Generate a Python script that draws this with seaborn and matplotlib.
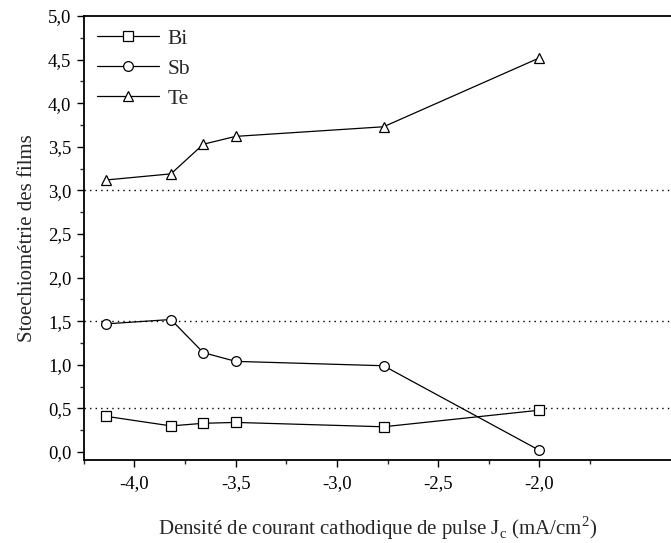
import numpy as np
import pandas as pd
import seaborn as sns
import matplotlib.pyplot as plt

# courant cathodique de pulse (mA/cm2)
jc = [-4.14, -3.82, -3.66, -3.50, -2.77, -2.00]
bi = [0.41, 0.30, 0.33, 0.34, 0.29, 0.48]
sb = [1.47, 1.52, 1.14, 1.04, 0.99, 0.02]
te = [3.12, 3.19, 3.53, 3.62, 3.73, 4.52]
ref_levels = [3.0, 1.5, 0.5]
yticks = np.arange(0, 5.01, 0.5)
xticks = [-4.0, -3.5, -3.0, -2.5, -2.0]

df = pd.DataFrame({'jc': jc * 3,
                   'val': bi + sb + te,
                   'elem': ['Bi'] * 6 + ['Sb'] * 6 + ['Te'] * 6})

sns.set_theme(style='ticks')
plt.rcParams['font.family'] = ['Liberation Serif', 'DejaVu Serif']
plt.rcParams['mathtext.fontset'] = 'custom'
plt.rcParams['mathtext.rm'] = 'Liberation Serif'

fig = plt.figure(figsize=(6.71, 5.43), dpi=100)
ax = fig.add_axes([0.125, 0.153, 0.875, 0.8175])

markers = {'Bi': 's', 'Sb': 'o', 'Te': '^'}
for el in ['Bi', 'Sb', 'Te']:
    sub = df[df['elem'] == el]
    sns.lineplot(data=sub, x='jc', y='val', ax=ax, color='black', lw=0.9,
                 marker=markers[el], markersize=7, markerfacecolor='white',
                 markeredgecolor='black', markeredgewidth=0.9, label=el)

for lv in ref_levels:
    ax.axhline(lv, color='black', ls=(0, (1, 3)), lw=1.0, zorder=0)

ax.set_xlim(-4.25, -1.35)
ax.set_ylim(-0.09, 5.0)
ax.set_xticks(xticks)
ax.set_xticklabels([f'{v:.1f}'.replace('.', ',') for v in xticks])
ax.set_yticks(yticks)
ax.set_yticklabels([f'{v:.1f}'.replace('.', ',') for v in yticks])
ax.set_xticks(np.arange(-4.25, -1.5, 0.5), minor=True)
ax.set_yticks(np.arange(0.25, 5.0, 0.5), minor=True)
ax.tick_params(which='major', direction='out', length=5, width=1, labelsize=13.5,
               colors='black', pad=4)
ax.tick_params(axis='x', which='major', pad=6)
ax.tick_params(which='minor', direction='out', length=3, width=1)

for s in ['left', 'bottom', 'top']:
    ax.spines[s].set_linewidth(1.3)
    ax.spines[s].set_color('black')
ax.spines['right'].set_visible(False)

ax.set_xlabel('Densité de courant cathodique de pulse J$_\\mathrm{c}$ (mA/cm$^2$)',
              fontsize=15, labelpad=16)
ax.set_ylabel('Stoechiométrie des films', fontsize=15, labelpad=8)

ax.legend(loc='upper left', frameon=False, fontsize=15.5, handlelength=2.9,
          handletextpad=0.4, labelspacing=0.45, borderaxespad=0.2,
          borderpad=0.4)

fig.savefig('out.png', dpi=100)
